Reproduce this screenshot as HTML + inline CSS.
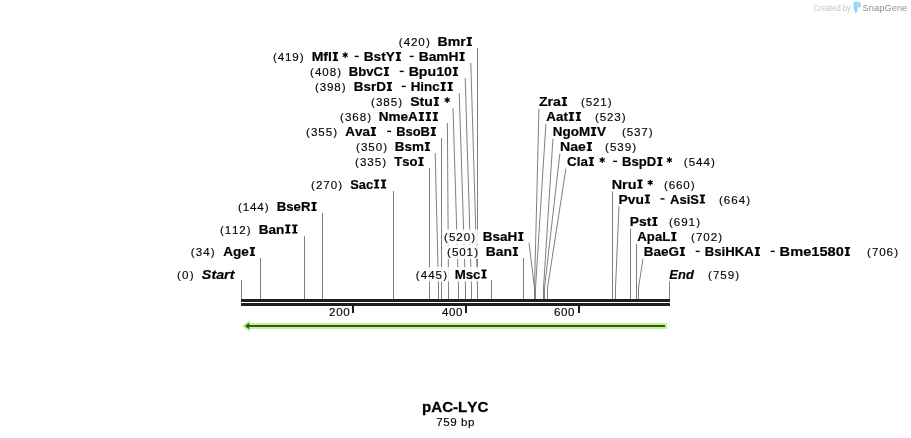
<!DOCTYPE html>
<html><head><meta charset="utf-8"><style>
html,body{margin:0;padding:0;background:#fff;width:911px;height:438px;overflow:hidden}
svg{display:block}
text{font-family:"Liberation Sans",sans-serif;font-kerning:none}
</style></head><body>
<svg width="911" height="438" viewBox="0 0 911 438">
<rect width="911" height="438" fill="#fff"/>

<g stroke="#808080" stroke-width="1" fill="none">
<path d="M241.5 280V299"/>
<path d="M260.5 258V299"/>
<path d="M304.5 236V299"/>
<path d="M322.5 213V299"/>
<path d="M393.5 191V299"/>
<path d="M429.5 168V299"/>
<path d="M435.2 153L438.5 288V299"/>
<path d="M441.5 138V299"/>
<path d="M447.4 123L448.5 288V299"/>
<path d="M453 108L458.5 288V299"/>
<path d="M459.2 93L465.5 288V299"/>
<path d="M465.2 78L471.5 288V299"/>
<path d="M470.8 63L477.5 288V299"/>
<path d="M477.5 48V299"/>
<path d="M491.5 280V299"/>
<path d="M523.5 258V299"/>
<path d="M529 242.6L534.5 288V299"/>
<path d="M539 107.6L534.5 288V299"/>
<path d="M546 122.4L535.5 288V299"/>
<path d="M553 137.4L543.5 288V299"/>
<path d="M560 152.4L544.5 288V299"/>
<path d="M566 168L547.5 288V299"/>
<path d="M612.5 191V299"/>
<path d="M619 206L615.5 288V299"/>
<path d="M630.5 228V299"/>
<path d="M636.5 243V299"/>
<path d="M643.1 258L638.5 288V299"/>
<path d="M669.5 280V299"/>
</g>
<g fill="#fff" fill-opacity="0.87">
<rect x="397.4" y="34.5" width="76.5" height="14.5"/>
<rect x="271.6" y="49.5" width="195.1" height="14.5"/>
<rect x="308.6" y="64.5" width="151.4" height="14.5"/>
<rect x="313.6" y="79.5" width="141.2" height="14.5"/>
<rect x="369.6" y="94.5" width="82.8" height="14.5"/>
<rect x="338.6" y="109.5" width="101.4" height="14.5"/>
<rect x="304.6" y="124.5" width="133.4" height="14.5"/>
<rect x="354.6" y="139.5" width="77.4" height="14.5"/>
<rect x="353.6" y="154.5" width="72.0" height="14.5"/>
<rect x="309.6" y="177.0" width="78.6" height="14.5"/>
<rect x="236.6" y="199.5" width="82.0" height="14.5"/>
<rect x="218.6" y="222.0" width="80.8" height="14.5"/>
<rect x="189.4" y="244.5" width="67.6" height="14.5"/>
<rect x="175.6" y="267.0" width="61.4" height="14.5"/>
<rect x="442.6" y="229.5" width="82.8" height="14.5"/>
<rect x="445.6" y="244.5" width="74.4" height="14.5"/>
<rect x="414.4" y="267.0" width="74.2" height="14.5"/>
<rect x="537.4" y="94.5" width="75.6" height="14.5"/>
<rect x="544.6" y="109.5" width="82.4" height="14.5"/>
<rect x="551.6" y="124.5" width="102.4" height="14.5"/>
<rect x="559.0" y="139.5" width="78.4" height="14.5"/>
<rect x="565.6" y="154.5" width="150.6" height="14.5"/>
<rect x="610.6" y="177.0" width="85.4" height="14.5"/>
<rect x="617.4" y="192.0" width="134.0" height="14.5"/>
<rect x="628.6" y="214.5" width="72.8" height="14.5"/>
<rect x="635.6" y="229.5" width="87.8" height="14.5"/>
<rect x="642.6" y="244.5" width="256.8" height="14.5"/>
<rect x="667.6" y="267.0" width="72.8" height="14.5"/>
</g>
<rect x="241" y="299" width="429" height="3" fill="#1e1e1e"/>
<rect x="241" y="303" width="429" height="3" fill="#1e1e1e"/>
<rect x="352" y="306" width="2" height="7" fill="#1e1e1e"/>
<rect x="465" y="306" width="2" height="7" fill="#1e1e1e"/>
<rect x="578" y="306" width="2" height="7" fill="#1e1e1e"/>
<path d="M250 320 L242 326 L250 332 Z" fill="#baf88e"/>
<rect x="249" y="323" width="418" height="6" fill="#baf88e"/>
<path d="M249.2 322.8 L245 326 L249.2 329.2 Z" fill="#3d4f2f"/>
<rect x="249" y="325" width="416" height="2" fill="#3d4f2f"/>
<g opacity="0.999">
<text transform="translate(399.40,46) scale(1.0,1)" x="-0.72 4.32 11.62 18.96 26.56" font-size="11.6" fill="#000" stroke="#000" stroke-width="0.15">(420)</text>
<path d="M466.70 37.10h5.20v1.6h-1.40V44.40h1.40v1.6h-5.20v-1.6h1.40V38.70h-1.40z" fill="#000"/>
<text transform="translate(437.56,46) scale(1.0945,1)" x="0.00 9.32 20.79" font-size="12.9" font-weight="bold" font-style="normal" fill="#000" stroke="#000" stroke-width="0.2">Bmr</text>
<text transform="translate(273.60,61) scale(1.0,1)" x="-0.72 4.25 11.31 18.73 26.26" font-size="11.6" fill="#000" stroke="#000" stroke-width="0.15">(419)</text>
<path d="M332.80 52.10h5.20v1.6h-1.40V59.40h1.40v1.6h-5.20v-1.6h1.40V53.70h-1.40z" fill="#000"/>
<text transform="translate(311.66,61) scale(1.0865,1)" x="0.00 10.75 15.04" font-size="12.9" font-weight="bold" font-style="normal" fill="#000" stroke="#000" stroke-width="0.2">Mfl</text>
<path d="M345.20 55.05L345.20 52.65M345.20 55.05L347.28 53.85M345.20 55.05L343.12 53.85M345.20 55.05L343.12 56.25M345.20 55.05L345.20 57.45M345.20 55.05L347.28 56.25" stroke="#000" stroke-width="1.3" stroke-linecap="round"/><circle cx="345.20" cy="55.05" r="1.2" fill="#000"/>
<rect x="354.70" y="55.70" width="4.0" height="1.4" fill="#000"/>
<path d="M395.80 52.10h5.20v1.6h-1.40V59.40h1.40v1.6h-5.20v-1.6h1.40V53.70h-1.40z" fill="#000"/>
<text transform="translate(363.68,61) scale(1.0621,1)" x="0.00 9.32 16.49 20.79" font-size="12.9" font-weight="bold" font-style="normal" fill="#000" stroke="#000" stroke-width="0.2">BstY</text>
<rect x="409.70" y="55.70" width="4.0" height="1.4" fill="#000"/>
<path d="M459.50 52.10h5.20v1.6h-1.40V59.40h1.40v1.6h-5.20v-1.6h1.40V53.70h-1.40z" fill="#000"/>
<text transform="translate(418.68,61) scale(1.0710,1)" x="0.00 9.32 16.49 27.96" font-size="12.9" font-weight="bold" font-style="normal" fill="#000" stroke="#000" stroke-width="0.2">BamH</text>
<text transform="translate(310.60,76) scale(1.0,1)" x="-0.72 4.34 11.67 19.04 26.66" font-size="11.6" fill="#000" stroke="#000" stroke-width="0.15">(408)</text>
<path d="M383.80 67.10h5.20v1.6h-1.40V74.40h1.40v1.6h-5.20v-1.6h1.40V68.70h-1.40z" fill="#000"/>
<text transform="translate(348.72,76) scale(1.0145,1)" x="0.00 9.32 17.20 24.37" font-size="12.9" font-weight="bold" font-style="normal" fill="#000" stroke="#000" stroke-width="0.2">BbvC</text>
<rect x="399.70" y="70.70" width="4.0" height="1.4" fill="#000"/>
<path d="M452.80 67.10h5.20v1.6h-1.40V74.40h1.40v1.6h-5.20v-1.6h1.40V68.70h-1.40z" fill="#000"/>
<text transform="translate(408.65,76) scale(1.0970,1)" x="0.00 9.32 17.20 25.08 32.25" font-size="12.9" font-weight="bold" font-style="normal" fill="#000" stroke="#000" stroke-width="0.2">Bpu10</text>
<text transform="translate(315.60,91) scale(1.0,1)" x="-0.72 4.25 11.47 18.73 26.26" font-size="11.6" fill="#000" stroke="#000" stroke-width="0.15">(398)</text>
<path d="M386.80 82.10h5.20v1.6h-1.40V89.40h1.40v1.6h-5.20v-1.6h1.40V83.70h-1.40z" fill="#000"/>
<text transform="translate(353.70,91) scale(1.0446,1)" x="0.00 9.32 16.49 21.51" font-size="12.9" font-weight="bold" font-style="normal" fill="#000" stroke="#000" stroke-width="0.2">BsrD</text>
<rect x="401.70" y="85.70" width="4.0" height="1.4" fill="#000"/>
<path d="M440.60 82.10h5.20v1.6h-1.40V89.40h1.40v1.6h-5.20v-1.6h1.40V83.70h-1.40z" fill="#000"/>
<path d="M447.60 82.10h5.20v1.6h-1.40V89.40h1.40v1.6h-5.20v-1.6h1.40V83.70h-1.40z" fill="#000"/>
<text transform="translate(410.70,91) scale(1.0372,1)" x="0.00 9.32 12.90 20.78" font-size="12.9" font-weight="bold" font-style="normal" fill="#000" stroke="#000" stroke-width="0.2">Hinc</text>
<text transform="translate(371.60,106) scale(1.0,1)" x="-0.72 4.34 11.67 19.05 26.66" font-size="11.6" fill="#000" stroke="#000" stroke-width="0.15">(385)</text>
<path d="M433.80 97.10h5.20v1.6h-1.40V104.40h1.40v1.6h-5.20v-1.6h1.40V98.70h-1.40z" fill="#000"/>
<text transform="translate(410.19,106) scale(1.0927,1)" x="0.00 8.60 12.90" font-size="12.9" font-weight="bold" font-style="normal" fill="#000" stroke="#000" stroke-width="0.2">Stu</text>
<path d="M447.20 100.05L447.20 97.65M447.20 100.05L449.28 98.85M447.20 100.05L445.12 98.85M447.20 100.05L445.12 101.25M447.20 100.05L447.20 102.45M447.20 100.05L449.28 101.25" stroke="#000" stroke-width="1.3" stroke-linecap="round"/><circle cx="447.20" cy="100.05" r="1.2" fill="#000"/>
<text transform="translate(340.60,121) scale(1.0,1)" x="-0.72 4.34 11.63 19.04 26.66" font-size="11.6" fill="#000" stroke="#000" stroke-width="0.15">(368)</text>
<path d="M418.80 112.10h5.20v1.6h-1.40V119.40h1.40v1.6h-5.20v-1.6h1.40V113.70h-1.40z" fill="#000"/>
<path d="M425.80 112.10h5.20v1.6h-1.40V119.40h1.40v1.6h-5.20v-1.6h1.40V113.70h-1.40z" fill="#000"/>
<path d="M432.80 112.10h5.20v1.6h-1.40V119.40h1.40v1.6h-5.20v-1.6h1.40V113.70h-1.40z" fill="#000"/>
<text transform="translate(378.69,121) scale(1.0518,1)" x="0.00 9.32 20.79 27.96" font-size="12.9" font-weight="bold" font-style="normal" fill="#000" stroke="#000" stroke-width="0.2">NmeA</text>
<text transform="translate(306.60,136) scale(1.0,1)" x="-0.72 4.34 11.68 19.05 26.66" font-size="11.6" fill="#000" stroke="#000" stroke-width="0.15">(355)</text>
<path d="M370.80 127.10h5.20v1.6h-1.40V134.40h1.40v1.6h-5.20v-1.6h1.40V128.70h-1.40z" fill="#000"/>
<text transform="translate(345.27,136) scale(1.0410,1)" x="0.00 9.32 16.49" font-size="12.9" font-weight="bold" font-style="normal" fill="#000" stroke="#000" stroke-width="0.2">Ava</text>
<rect x="387.10" y="130.70" width="4.0" height="1.4" fill="#000"/>
<path d="M430.80 127.10h5.20v1.6h-1.40V134.40h1.40v1.6h-5.20v-1.6h1.40V128.70h-1.40z" fill="#000"/>
<text transform="translate(396.14,136) scale(1.0023,1)" x="0.00 9.32 16.49 24.37" font-size="12.9" font-weight="bold" font-style="normal" fill="#000" stroke="#000" stroke-width="0.2">BsoB</text>
<text transform="translate(356.60,151) scale(1.0,1)" x="-0.72 4.34 11.68 19.04 26.66" font-size="11.6" fill="#000" stroke="#000" stroke-width="0.15">(350)</text>
<path d="M424.80 142.10h5.20v1.6h-1.40V149.40h1.40v1.6h-5.20v-1.6h1.40V143.70h-1.40z" fill="#000"/>
<text transform="translate(394.70,151) scale(1.0444,1)" x="0.00 9.32 16.49" font-size="12.9" font-weight="bold" font-style="normal" fill="#000" stroke="#000" stroke-width="0.2">Bsm</text>
<text transform="translate(355.60,166) scale(1.0,1)" x="-0.72 4.34 11.70 19.05 26.66" font-size="11.6" fill="#000" stroke="#000" stroke-width="0.15">(335)</text>
<path d="M418.40 157.10h5.20v1.6h-1.40V164.40h1.40v1.6h-5.20v-1.6h1.40V158.70h-1.40z" fill="#000"/>
<text transform="translate(394.25,166) scale(1.0136,1)" x="0.00 7.88 15.05" font-size="12.9" font-weight="bold" font-style="normal" fill="#000" stroke="#000" stroke-width="0.2">Tso</text>
<text transform="translate(311.60,188.5) scale(1.0,1)" x="-0.72 4.30 11.66 19.04 26.66" font-size="11.6" fill="#000" stroke="#000" stroke-width="0.15">(270)</text>
<path d="M374.00 179.60h5.20v1.6h-1.40V186.90h1.40v1.6h-5.20v-1.6h1.40V181.20h-1.40z" fill="#000"/>
<path d="M381.00 179.60h5.20v1.6h-1.40V186.90h1.40v1.6h-5.20v-1.6h1.40V181.20h-1.40z" fill="#000"/>
<text transform="translate(350.13,188.5) scale(1.0008,1)" x="0.00 8.60 15.78" font-size="12.9" font-weight="bold" font-style="normal" fill="#000" stroke="#000" stroke-width="0.2">Sac</text>
<text transform="translate(238.60,211) scale(1.0,1)" x="-0.72 4.05 11.51 18.76 26.26" font-size="11.6" fill="#000" stroke="#000" stroke-width="0.15">(144)</text>
<path d="M311.40 202.10h5.20v1.6h-1.40V209.40h1.40v1.6h-5.20v-1.6h1.40V203.70h-1.40z" fill="#000"/>
<text transform="translate(276.72,211) scale(1.0244,1)" x="0.00 9.32 16.49 23.66" font-size="12.9" font-weight="bold" font-style="normal" fill="#000" stroke="#000" stroke-width="0.2">BseR</text>
<text transform="translate(220.60,233.5) scale(1.0,1)" x="-0.72 4.05 11.31 18.73 26.26" font-size="11.6" fill="#000" stroke="#000" stroke-width="0.15">(112)</text>
<path d="M285.20 224.60h5.20v1.6h-1.40V231.90h1.40v1.6h-5.20v-1.6h1.40V226.20h-1.40z" fill="#000"/>
<path d="M292.20 224.60h5.20v1.6h-1.40V231.90h1.40v1.6h-5.20v-1.6h1.40V226.20h-1.40z" fill="#000"/>
<text transform="translate(258.69,233.5) scale(1.0507,1)" x="0.00 9.32 16.49" font-size="12.9" font-weight="bold" font-style="normal" fill="#000" stroke="#000" stroke-width="0.2">Ban</text>
<text transform="translate(191.40,256) scale(1.0,1)" x="-0.72 4.39 11.82 19.46" font-size="11.6" fill="#000" stroke="#000" stroke-width="0.15">(34)</text>
<path d="M249.80 247.10h5.20v1.6h-1.40V254.40h1.40v1.6h-5.20v-1.6h1.40V248.70h-1.40z" fill="#000"/>
<text transform="translate(223.26,256) scale(1.0520,1)" x="0.00 9.32 17.20" font-size="12.9" font-weight="bold" font-style="normal" fill="#000" stroke="#000" stroke-width="0.2">Age</text>
<text transform="translate(177.60,278.5) scale(1.0,1)" x="-0.72 4.47 12.26" font-size="11.6" fill="#000" stroke="#000" stroke-width="0.15">(0)</text>
<text transform="translate(201.82,278.5) scale(1.1121,1)" font-size="12.9" font-weight="bold" font-style="italic" fill="#000" stroke="#000" stroke-width="0.2">Start</text>
<text transform="translate(444.60,241) scale(1.0,1)" x="-0.72 4.31 11.67 19.04 26.66" font-size="11.6" fill="#000" stroke="#000" stroke-width="0.15">(520)</text>
<path d="M518.20 232.10h5.20v1.6h-1.40V239.40h1.40v1.6h-5.20v-1.6h1.40V233.70h-1.40z" fill="#000"/>
<text transform="translate(482.69,241) scale(1.0493,1)" x="0.00 9.32 16.49 23.66" font-size="12.9" font-weight="bold" font-style="normal" fill="#000" stroke="#000" stroke-width="0.2">BsaH</text>
<text transform="translate(447.60,256) scale(1.0,1)" x="-0.72 4.31 11.67 18.88 26.66" font-size="11.6" fill="#000" stroke="#000" stroke-width="0.15">(501)</text>
<path d="M512.80 247.10h5.20v1.6h-1.40V254.40h1.40v1.6h-5.20v-1.6h1.40V248.70h-1.40z" fill="#000"/>
<text transform="translate(485.67,256) scale(1.0763,1)" x="0.00 9.32 16.49" font-size="12.9" font-weight="bold" font-style="normal" fill="#000" stroke="#000" stroke-width="0.2">Ban</text>
<text transform="translate(416.40,278.5) scale(1.0,1)" x="-0.72 4.38 11.81 19.20 26.86" font-size="11.6" fill="#000" stroke="#000" stroke-width="0.15">(445)</text>
<path d="M481.40 269.60h5.20v1.6h-1.40V276.90h1.40v1.6h-5.20v-1.6h1.40V271.20h-1.40z" fill="#000"/>
<text transform="translate(454.71,278.5) scale(1.0276,1)" x="0.00 10.75 17.92" font-size="12.9" font-weight="bold" font-style="normal" fill="#000" stroke="#000" stroke-width="0.2">Msc</text>
<path d="M561.80 97.10h5.20v1.6h-1.40V104.40h1.40v1.6h-5.20v-1.6h1.40V98.70h-1.40z" fill="#000"/>
<text transform="translate(538.98,106) scale(1.0919,1)" x="0.00 7.88 12.90" font-size="12.9" font-weight="bold" font-style="normal" fill="#000" stroke="#000" stroke-width="0.2">Zra</text>
<text transform="translate(581.60,106) scale(1.0,1)" x="-0.72 4.22 11.47 18.57 26.26" font-size="11.6" fill="#000" stroke="#000" stroke-width="0.15">(521)</text>
<path d="M568.80 112.10h5.20v1.6h-1.40V119.40h1.40v1.6h-5.20v-1.6h1.40V113.70h-1.40z" fill="#000"/>
<path d="M575.80 112.10h5.20v1.6h-1.40V119.40h1.40v1.6h-5.20v-1.6h1.40V113.70h-1.40z" fill="#000"/>
<text transform="translate(546.27,121) scale(1.0408,1)" x="0.00 9.32 16.49" font-size="12.9" font-weight="bold" font-style="normal" fill="#000" stroke="#000" stroke-width="0.2">Aat</text>
<text transform="translate(595.60,121) scale(1.0,1)" x="-0.72 4.22 11.47 18.76 26.26" font-size="11.6" fill="#000" stroke="#000" stroke-width="0.15">(523)</text>
<path d="M591.01 127.10h5.20v1.6h-1.40V134.40h1.40v1.6h-5.20v-1.6h1.40V128.70h-1.40z" fill="#000"/>
<text transform="translate(552.70,136) scale(1.0443,1)" x="0.00 9.32 17.20 25.08 42.52" font-size="12.9" font-weight="bold" font-style="normal" fill="#000" stroke="#000" stroke-width="0.2">NgoMV</text>
<text transform="translate(622.60,136) scale(1.0,1)" x="-0.72 4.22 11.50 18.72 26.26" font-size="11.6" fill="#000" stroke="#000" stroke-width="0.15">(537)</text>
<path d="M586.80 142.10h5.20v1.6h-1.40V149.40h1.40v1.6h-5.20v-1.6h1.40V143.70h-1.40z" fill="#000"/>
<text transform="translate(560.06,151) scale(1.0920,1)" x="0.00 9.32 16.49" font-size="12.9" font-weight="bold" font-style="normal" fill="#000" stroke="#000" stroke-width="0.2">Nae</text>
<text transform="translate(605.60,151) scale(1.0,1)" x="-0.72 4.31 11.70 19.04 26.66" font-size="11.6" fill="#000" stroke="#000" stroke-width="0.15">(539)</text>
<path d="M588.80 157.10h5.20v1.6h-1.40V164.40h1.40v1.6h-5.20v-1.6h1.40V158.70h-1.40z" fill="#000"/>
<text transform="translate(567.05,166) scale(1.0386,1)" x="0.00 9.32 12.90" font-size="12.9" font-weight="bold" font-style="normal" fill="#000" stroke="#000" stroke-width="0.2">Cla</text>
<path d="M602.20 160.05L602.20 157.65M602.20 160.05L604.28 158.85M602.20 160.05L600.12 158.85M602.20 160.05L600.12 161.25M602.20 160.05L602.20 162.45M602.20 160.05L604.28 161.25" stroke="#000" stroke-width="1.3" stroke-linecap="round"/><circle cx="602.20" cy="160.05" r="1.2" fill="#000"/>
<rect x="613.10" y="160.70" width="4.0" height="1.4" fill="#000"/>
<path d="M657.20 157.10h5.20v1.6h-1.40V164.40h1.40v1.6h-5.20v-1.6h1.40V158.70h-1.40z" fill="#000"/>
<text transform="translate(622.12,166) scale(1.0145,1)" x="0.00 9.32 16.49 24.37" font-size="12.9" font-weight="bold" font-style="normal" fill="#000" stroke="#000" stroke-width="0.2">BspD</text>
<path d="M669.40 160.05L669.40 157.65M669.40 160.05L671.48 158.85M669.40 160.05L667.32 158.85M669.40 160.05L667.32 161.25M669.40 160.05L669.40 162.45M669.40 160.05L671.48 161.25" stroke="#000" stroke-width="1.3" stroke-linecap="round"/><circle cx="669.40" cy="160.05" r="1.2" fill="#000"/>
<text transform="translate(684.40,166) scale(1.0,1)" x="-0.72 4.31 11.71 19.07 26.66" font-size="11.6" fill="#000" stroke="#000" stroke-width="0.15">(544)</text>
<path d="M637.40 179.60h5.20v1.6h-1.40V186.90h1.40v1.6h-5.20v-1.6h1.40V181.20h-1.40z" fill="#000"/>
<text transform="translate(611.63,188.5) scale(1.1193,1)" x="0.00 9.32 14.34" font-size="12.9" font-weight="bold" font-style="normal" fill="#000" stroke="#000" stroke-width="0.2">Nru</text>
<path d="M650.20 182.55L650.20 180.15M650.20 182.55L652.28 181.35M650.20 182.55L648.12 181.35M650.20 182.55L648.12 183.75M650.20 182.55L650.20 184.95M650.20 182.55L652.28 183.75" stroke="#000" stroke-width="1.3" stroke-linecap="round"/><circle cx="650.20" cy="182.55" r="1.2" fill="#000"/>
<text transform="translate(664.60,188.5) scale(1.0,1)" x="-0.72 4.17 11.43 18.73 26.26" font-size="11.6" fill="#000" stroke="#000" stroke-width="0.15">(660)</text>
<path d="M644.80 194.60h5.20v1.6h-1.40V201.90h1.40v1.6h-5.20v-1.6h1.40V196.20h-1.40z" fill="#000"/>
<text transform="translate(618.47,203.5) scale(1.0748,1)" x="0.00 8.60 15.78" font-size="12.9" font-weight="bold" font-style="normal" fill="#000" stroke="#000" stroke-width="0.2">Pvu</text>
<rect x="660.50" y="198.20" width="4.0" height="1.4" fill="#000"/>
<path d="M699.80 194.60h5.20v1.6h-1.40V201.90h1.40v1.6h-5.20v-1.6h1.40V196.20h-1.40z" fill="#000"/>
<text transform="translate(670.08,203.5) scale(1.0050,1)" x="0.00 9.32 16.49 20.07" font-size="12.9" font-weight="bold" font-style="normal" fill="#000" stroke="#000" stroke-width="0.2">AsiS</text>
<text transform="translate(719.60,203.5) scale(1.0,1)" x="-0.72 4.26 11.63 19.07 26.66" font-size="11.6" fill="#000" stroke="#000" stroke-width="0.15">(664)</text>
<path d="M652.20 217.10h5.20v1.6h-1.40V224.40h1.40v1.6h-5.20v-1.6h1.40V218.70h-1.40z" fill="#000"/>
<text transform="translate(629.67,226) scale(1.0775,1)" x="0.00 8.60 15.78" font-size="12.9" font-weight="bold" font-style="normal" fill="#000" stroke="#000" stroke-width="0.2">Pst</text>
<text transform="translate(669.60,226) scale(1.0,1)" x="-0.72 4.26 11.67 18.88 26.66" font-size="11.6" fill="#000" stroke="#000" stroke-width="0.15">(691)</text>
<path d="M671.20 232.10h5.20v1.6h-1.40V239.40h1.40v1.6h-5.20v-1.6h1.40V233.70h-1.40z" fill="#000"/>
<text transform="translate(637.27,241) scale(1.0242,1)" x="0.00 9.32 17.20 24.37" font-size="12.9" font-weight="bold" font-style="normal" fill="#000" stroke="#000" stroke-width="0.2">ApaL</text>
<text transform="translate(691.60,241) scale(1.0,1)" x="-0.72 4.30 11.67 19.04 26.66" font-size="11.6" fill="#000" stroke="#000" stroke-width="0.15">(702)</text>
<path d="M679.80 247.10h5.20v1.6h-1.40V254.40h1.40v1.6h-5.20v-1.6h1.40V248.70h-1.40z" fill="#000"/>
<text transform="translate(643.70,256) scale(1.0446,1)" x="0.00 9.32 16.49 23.66" font-size="12.9" font-weight="bold" font-style="normal" fill="#000" stroke="#000" stroke-width="0.2">BaeG</text>
<rect x="695.70" y="250.70" width="4.0" height="1.4" fill="#000"/>
<path d="M754.80 247.10h5.20v1.6h-1.40V254.40h1.40v1.6h-5.20v-1.6h1.40V248.70h-1.40z" fill="#000"/>
<text transform="translate(704.72,256) scale(1.0242,1)" x="0.00 9.32 16.49 20.07 29.39 38.71" font-size="12.9" font-weight="bold" font-style="normal" fill="#000" stroke="#000" stroke-width="0.2">BsiHKA</text>
<rect x="770.70" y="250.70" width="4.0" height="1.4" fill="#000"/>
<path d="M844.80 247.10h5.20v1.6h-1.40V254.40h1.40v1.6h-5.20v-1.6h1.40V248.70h-1.40z" fill="#000"/>
<text transform="translate(779.62,256) scale(1.1345,1)" x="0.00 9.32 20.79 27.96 35.13 42.31 49.48" font-size="12.9" font-weight="bold" font-style="normal" fill="#000" stroke="#000" stroke-width="0.2">Bme1580</text>
<text transform="translate(867.60,256) scale(1.0,1)" x="-0.72 4.30 11.67 19.00 26.66" font-size="11.6" fill="#000" stroke="#000" stroke-width="0.15">(706)</text>
<text transform="translate(669.37,278.5) scale(1.0017,1)" font-size="12.9" font-weight="bold" font-style="italic" fill="#000" stroke="#000" stroke-width="0.2">End</text>
<text transform="translate(708.60,278.5) scale(1.0,1)" x="-0.72 4.30 11.68 19.04 26.66" font-size="11.6" fill="#000" stroke="#000" stroke-width="0.15">(759)</text>
<text transform="translate(436.90,425.6) scale(1.0,1)" x="-0.59 6.40 13.37 24.20 31.04" font-size="11.6" fill="#000" stroke="#000" stroke-width="0.15">759bp</text>
<text transform="translate(329.70,316) scale(1.0,1)" x="-0.58 6.51 13.60" font-size="11.6" fill="#000" stroke="#000" stroke-width="0.15">200</text>
<text transform="translate(442.30,316) scale(1.0,1)" x="-0.27 6.70 13.70" font-size="11.6" fill="#000" stroke="#000" stroke-width="0.15">400</text>
<text transform="translate(554.60,316) scale(1.0,1)" x="-0.59 6.43 13.40" font-size="11.6" fill="#000" stroke="#000" stroke-width="0.15">600</text>
</g>
<g opacity="0.999">
<text transform="translate(422.00,412) scale(1.0967,1.0)" font-size="13.8" font-weight="bold" font-style="normal" fill="#000" stroke="#000" stroke-width="0.25">pAC-LYC</text>
<text transform="translate(813.51,11) scale(0.9213,1.0)" font-size="8.3" font-weight="normal" font-style="normal" fill="#c4c4c4">Created by</text>
<path d="M853.6 1.8 L858.4 1.8 L860.8 3.2 L860.8 6.6 L858.6 7.6 L856.4 12.8 L855.3 12.8 L853.6 8 Z" fill="#8fd6f8"/><path d="M857.2 2.2 L858.2 2.2 L858.2 7.5 L857.2 9.5 Z" fill="#c4eafc"/>
<text transform="translate(862.58,11) scale(0.9746,1.0)" font-size="9.6" font-weight="normal" font-style="normal" fill="#8a9098">SnapGene</text>
</g>
</svg></body></html>
